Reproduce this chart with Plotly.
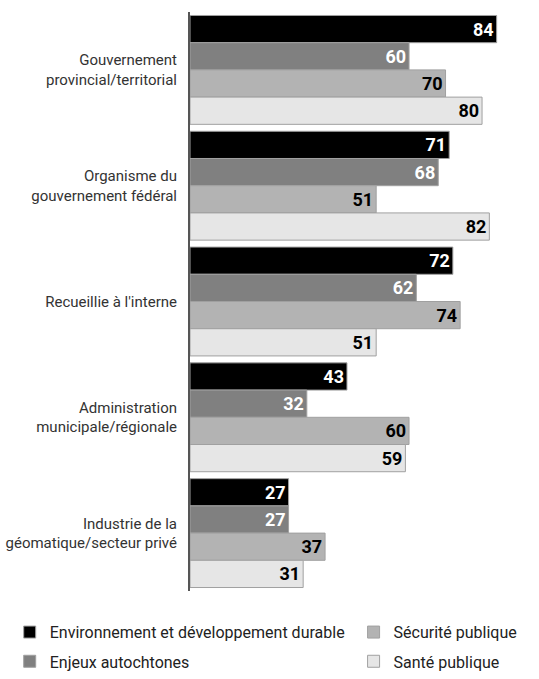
import plotly.graph_objects as go

categories = [
    "Gouvernement<br>provincial/territorial",
    "Organisme du<br>gouvernement fédéral",
    "Recueillie à l'interne",
    "Administration<br>municipale/régionale",
    "Industrie de la<br>géomatique/secteur privé",
]
series_names = [
    "Environnement et développement durable",
    "Enjeux autochtones",
    "Sécurité publique",
    "Santé publique",
]
env = [84, 71, 72, 43, 27]
autochtones = [60, 68, 62, 32, 27]
securite = [70, 51, 74, 60, 37]
sante = [80, 82, 51, 59, 31]

values = [env, autochtones, securite, sante]
colors = ["#000000", "#808080", "#b3b3b3", "#e6e6e6"]
text_colors = ["#ffffff", "#ffffff", "#000000", "#000000"]
legend_ids = ["legend", "legend2", "legend3", "legend4"]
legend_pos = [(0.018, 0.094), (0.018, 0.051), (0.656, 0.094), (0.656, 0.051)]

FONT = "Roboto, Liberation Sans, sans-serif"

fig = go.Figure()
for name, vals, col, tc, lg in zip(series_names, values, colors, text_colors, legend_ids):
    fig.add_trace(go.Bar(
        y=categories, x=vals, name=name, orientation="h",
        marker=dict(color=col, line=dict(color="#a0a0a0", width=1)),
        text=[str(v) for v in vals], textposition="inside",
        insidetextanchor="end",
        textfont=dict(color=tc, size=18, family=FONT, weight="bold"),
        legend=lg,
    ))

legend_layout = {}
for lg, (lx, ly) in zip(legend_ids, legend_pos):
    legend_layout[lg] = dict(orientation="v", xref="container", yref="container",
                             x=lx, y=ly, xanchor="left", yanchor="top",
                             font=dict(size=16, color="#222222", family=FONT),
                             bgcolor="rgba(0,0,0,0)")

fig.update_layout(
    width=539, height=679,
    margin=dict(l=190, r=0, t=12, b=88, autoexpand=False),
    barmode="group", bargap=0.06, bargroupgap=0.0,
    plot_bgcolor="white", paper_bgcolor="white",
    font=dict(family=FONT, size=15, color="#333333"),
    xaxis=dict(range=[0, 95.6], visible=False, showgrid=False, automargin=False),
    yaxis=dict(autorange="reversed", showline=True, linecolor="#555555",
               linewidth=2, ticks="", showgrid=False, ticklabelstandoff=8,
               automargin=False,
               tickfont=dict(size=15, color="#333333", family=FONT)),
    showlegend=True,
    **legend_layout,
)

fig.write_html("out.html")
